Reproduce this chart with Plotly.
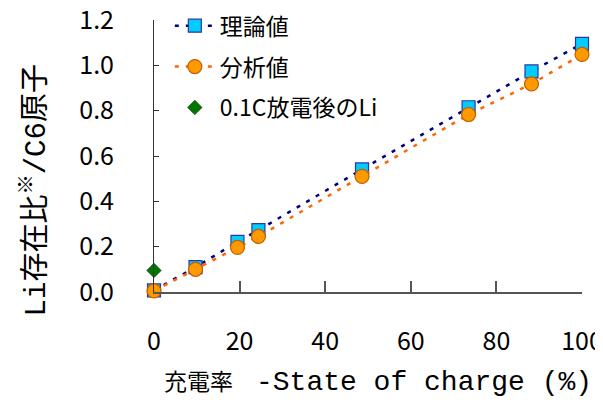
import plotly.graph_objects as go

# Data
soc = [0, 9.7, 19.5, 24.4, 48.6, 73.5, 88.2, 100]
theory = [0.007, 0.110, 0.221, 0.273, 0.541, 0.815, 0.973, 1.095]
analysis = [0.005, 0.100, 0.197, 0.245, 0.510, 0.783, 0.918, 1.048]
after_x = [0]
after_y = [0.095]

x_ticks = [0, 20, 40, 60, 80, 100]
y_ticks = [0.0, 0.2, 0.4, 0.6, 0.8, 1.0, 1.2]
y_ticktext = [f"{v:.1f}" for v in y_ticks]

FONT = "Noto Sans CJK JP"
MONO = "Liberation Mono"

fig = go.Figure()
fig.add_trace(go.Scatter(
    x=soc, y=theory, name="理論値", mode="lines+markers", legendgroup="a",
    line=dict(color="#000080", width=2.5, dash="4px,7px"),
    marker=dict(symbol="square", size=13, color="#00CCFF",
                line=dict(color="#2B3A9E", width=1.2)),
    cliponaxis=False,
))
fig.add_trace(go.Scatter(
    x=soc, y=analysis, name="分析値", mode="lines+markers", legendgroup="b",
    line=dict(color="#FF6600", width=2.5, dash="4px,7px"),
    marker=dict(symbol="circle", size=14, color="#FF9900",
                line=dict(color="#C06000", width=1.2)),
    cliponaxis=False,
))
fig.add_trace(go.Scatter(
    x=after_x, y=after_y, name="0.1C放電後のLi", mode="markers", legendgroup="c",
    marker=dict(symbol="diamond", size=11, color="#007700",
                line=dict(color="#004400", width=0.8)),
    cliponaxis=False,
))

x_title = (f"充電率　<span style='font-family:{MONO};font-size:28px'>"
           "-State of charge (%)</span>")
y_title = (f"<span style='font-family:{MONO}'>Li</span>存在比<sup>※</sup>"
           f"<span style='font-family:{MONO}'>/C6</span>原子")

fig.update_layout(
    width=595, height=395,
    margin=dict(l=145.5, r=21.3, t=12.3, b=110.7, autoexpand=False),
    paper_bgcolor="white", plot_bgcolor="white",
    font=dict(family=FONT, color="black", size=22),
    showlegend=True,
    legend=dict(x=0.037, y=1.058, xanchor="left", yanchor="top",
                bgcolor="rgba(0,0,0,0)", font=dict(size=23, family=FONT),
                tracegroupgap=8, traceorder="grouped", itemwidth=40),
    xaxis=dict(range=[0, 100], tickvals=x_ticks, ticks="inside", ticklen=11,
               tickcolor="#555", tickwidth=1.5, showline=True, linecolor="#555",
               linewidth=1.5, showgrid=False, zeroline=False, automargin=False,
               ticklabeloverflow="allow",
               tickfont=dict(size=25, family=FONT), ticklabelstandoff=26),
    yaxis=dict(range=[0, 1.2], tickvals=y_ticks, ticktext=y_ticktext,
               ticks="inside", ticklen=5, tickcolor="#333", tickwidth=1,
               showline=True, linecolor="#333", linewidth=1, showgrid=False,
               zeroline=False, automargin=False, ticklabeloverflow="allow",
               tickfont=dict(size=25, family=FONT), ticklabelstandoff=34),
    annotations=[
        dict(text=x_title, xref="paper", yref="paper",
             x=0.523, y=-0.326, xanchor="center", yanchor="middle",
             showarrow=False, font=dict(size=23, family=FONT)),
        dict(text=y_title, xref="paper", yref="paper",
             x=-0.286, y=0.372, xanchor="center", yanchor="middle",
             textangle=-90, showarrow=False, font=dict(size=29, family=FONT)),
    ],
)

fig.write_html("out.html")
